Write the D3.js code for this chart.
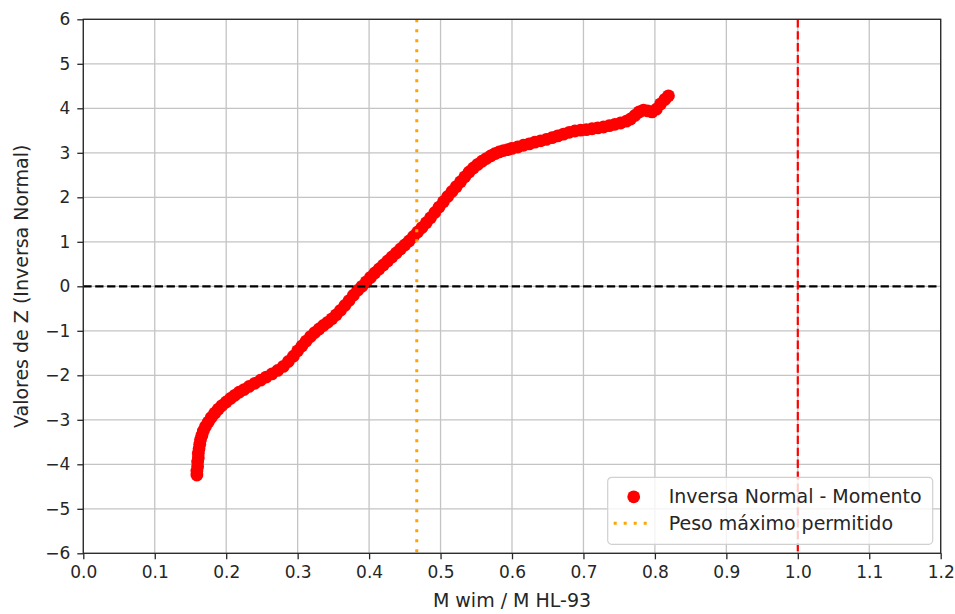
<!DOCTYPE html>
<html>
<head>
<meta charset="utf-8">
<script src="https://cdn.jsdelivr.net/npm/d3@7"></script>
<style>
  body { margin: 0; background: #fff; }
  text { font-family: "DejaVu Sans", sans-serif; fill: #262626; }
</style>
</head>
<body>
<div id="chart"></div>
<script>
// M wim / M HL-93 ratio (x) and inverse-normal Z (y)
const razonMomento = [
  0.159, 0.159, 0.160, 0.160, 0.161, 0.161, 0.162, 0.163, 0.164, 0.166,
  0.168, 0.171, 0.175, 0.179, 0.184, 0.189, 0.194, 0.200, 0.206, 0.212,
  0.218, 0.225, 0.232, 0.240, 0.248, 0.256, 0.264, 0.272, 0.280, 0.287,
  0.294, 0.300, 0.306, 0.312, 0.318, 0.324, 0.330, 0.336, 0.342, 0.348,
  0.354, 0.360, 0.366, 0.372, 0.378, 0.384, 0.390, 0.396, 0.402, 0.408,
  0.414, 0.420, 0.426, 0.432, 0.438, 0.444, 0.450, 0.456, 0.462, 0.468,
  0.474, 0.480, 0.486, 0.492, 0.498, 0.504, 0.510, 0.516, 0.522, 0.528,
  0.534, 0.540, 0.546, 0.552, 0.558, 0.564, 0.570, 0.576, 0.582, 0.588,
  0.594, 0.600, 0.608, 0.616, 0.624, 0.632, 0.640, 0.648, 0.656, 0.664,
  0.672, 0.680, 0.688, 0.696, 0.704, 0.712, 0.720, 0.728, 0.736, 0.744,
  0.752, 0.760, 0.766, 0.772, 0.778, 0.784, 0.790, 0.796, 0.802, 0.808,
  0.814, 0.819
];
const zValores = [
  -4.24, -4.15, -4.05, -3.95, -3.85, -3.75, -3.65, -3.55, -3.45, -3.35,
  -3.25, -3.15, -3.05, -2.95, -2.85, -2.76, -2.68, -2.60, -2.52, -2.45,
  -2.38, -2.32, -2.25, -2.18, -2.11, -2.04, -1.97, -1.89, -1.80, -1.69,
  -1.57, -1.45, -1.34, -1.23, -1.13, -1.04, -0.96, -0.88, -0.81, -0.73,
  -0.64, -0.54, -0.43, -0.32, -0.20, -0.09, 0.00, 0.10, 0.20, 0.30,
  0.39, 0.48, 0.57, 0.66, 0.75, 0.84, 0.93, 1.02, 1.12, 1.22,
  1.32, 1.43, 1.54, 1.66, 1.78, 1.90, 2.02, 2.13, 2.24, 2.35,
  2.46, 2.57, 2.66, 2.74, 2.81, 2.87, 2.93, 2.98, 3.02, 3.05,
  3.07, 3.10, 3.13, 3.17, 3.20, 3.24, 3.27, 3.30, 3.34, 3.38,
  3.42, 3.46, 3.49, 3.51, 3.52, 3.54, 3.56, 3.58, 3.61, 3.64,
  3.67, 3.71, 3.76, 3.84, 3.92, 3.96, 3.94, 3.92, 3.98, 4.10,
  4.20, 4.28
];

const xTicks = [0.0, 0.1, 0.2, 0.3, 0.4, 0.5, 0.6, 0.7, 0.8, 0.9, 1.0, 1.1, 1.2];
const yTicks = [-6, -5, -4, -3, -2, -1, 0, 1, 2, 3, 4, 5, 6];
const pesoMaximo = 0.4667;   // orange dotted line
const limite = 1.0;          // red dashed line

const W = 955, H = 614;
const margin = { top: 19.3, right: 14.3, bottom: 60.7, left: 83.3 };
const width = W - margin.left - margin.right,
  height = H - margin.top - margin.bottom;

const svg = d3.select("#chart").append("svg")
  .attr("width", W)
  .attr("height", H);

const g = svg.append("g")
  .attr("transform", `translate(${margin.left},${margin.top})`);

const x = d3.scaleLinear().domain([0, 1.2]).range([0, width]);
const y = d3.scaleLinear().domain([-6, 6]).range([height, 0]);

// grid
g.append("g").selectAll("line")
  .data(xTicks)
  .enter().append("line")
  .attr("x1", d => x(d)).attr("x2", d => x(d))
  .attr("y1", 0).attr("y2", height)
  .attr("stroke", "#c4c4c4").attr("stroke-width", 1.3);
g.append("g").selectAll("line")
  .data(yTicks)
  .enter().append("line")
  .attr("x1", 0).attr("x2", width)
  .attr("y1", d => y(d)).attr("y2", d => y(d))
  .attr("stroke", "#c4c4c4").attr("stroke-width", 1.3);

// scatter points
const puntos = razonMomento.map((v, i) => ({ v: v, z: zValores[i] }));
g.append("g").selectAll("circle")
  .data(puntos)
  .enter().append("circle")
  .attr("cx", d => x(d.v))
  .attr("cy", d => y(d.z))
  .attr("r", 6.4)
  .attr("fill", "#ff0000");

// reference lines
g.append("line")
  .attr("x1", 0).attr("x2", width)
  .attr("y1", y(0)).attr("y2", y(0))
  .attr("stroke", "#000").attr("stroke-width", 2.2)
  .attr("stroke-dasharray", "8.3,3.6");

g.append("line")
  .attr("x1", x(pesoMaximo)).attr("x2", x(pesoMaximo))
  .attr("y1", 0).attr("y2", height)
  .attr("stroke", "#ffa500").attr("stroke-width", 3)
  .attr("stroke-dasharray", "3,7");

g.append("line")
  .attr("x1", x(limite)).attr("x2", x(limite))
  .attr("y1", 0).attr("y2", height)
  .attr("stroke", "#ff0000").attr("stroke-width", 2.2)
  .attr("stroke-dasharray", "8.3,3.6");

// axes
const xAxis = d3.axisBottom(x).tickValues(xTicks).tickFormat(d3.format(".1f"))
  .tickSize(6).tickPadding(7);
const yAxis = d3.axisLeft(y).tickValues(yTicks).tickFormat(d3.format("d"))
  .tickSize(6).tickPadding(7);

const gx = g.append("g")
  .attr("transform", `translate(0,${height})`)
  .call(xAxis);
const gy = g.append("g").call(yAxis);

[gx, gy].forEach(a => {
  a.select(".domain").remove();
  a.selectAll(".tick line").attr("stroke", "#262626").attr("stroke-width", 1.3);
  a.selectAll(".tick text")
    .style("font-family", "DejaVu Sans, sans-serif")
    .style("font-size", "17px")
    .attr("fill", "#262626");
});

// frame
g.append("rect")
  .attr("width", width).attr("height", height)
  .attr("fill", "none")
  .attr("stroke", "#262626").attr("stroke-width", 1.3);

// axis labels
svg.append("text")
  .attr("x", margin.left + width / 2)
  .attr("y", 607)
  .attr("text-anchor", "middle")
  .style("font-size", "19px")
  .text("M wim / M HL-93");

svg.append("text")
  .attr("transform", `translate(28,${margin.top + height / 2}) rotate(-90)`)
  .attr("text-anchor", "middle")
  .style("font-size", "19px")
  .text("Valores de Z (Inversa Normal)");

// legend
const leg = g.append("g")
  .attr("transform", `translate(${width - 333},${height - 76})`);
leg.append("rect")
  .attr("width", 325).attr("height", 67)
  .attr("rx", 4)
  .attr("fill", "#fff").attr("fill-opacity", 0.8)
  .attr("stroke", "#d0d0d0").attr("stroke-width", 1.2);
leg.append("circle")
  .attr("cx", 26).attr("cy", 19.5).attr("r", 6.4)
  .attr("fill", "#ff0000");
leg.append("text")
  .attr("x", 61).attr("y", 26)
  .style("font-size", "19px")
  .text("Inversa Normal - Momento");
leg.append("line")
  .attr("x1", 6).attr("x2", 44)
  .attr("y1", 46).attr("y2", 46)
  .attr("stroke", "#ffa500").attr("stroke-width", 3)
  .attr("stroke-dasharray", "3,7");
leg.append("text")
  .attr("x", 61).attr("y", 53)
  .style("font-size", "19px")
  .text("Peso máximo permitido");
</script>
</body>
</html>
